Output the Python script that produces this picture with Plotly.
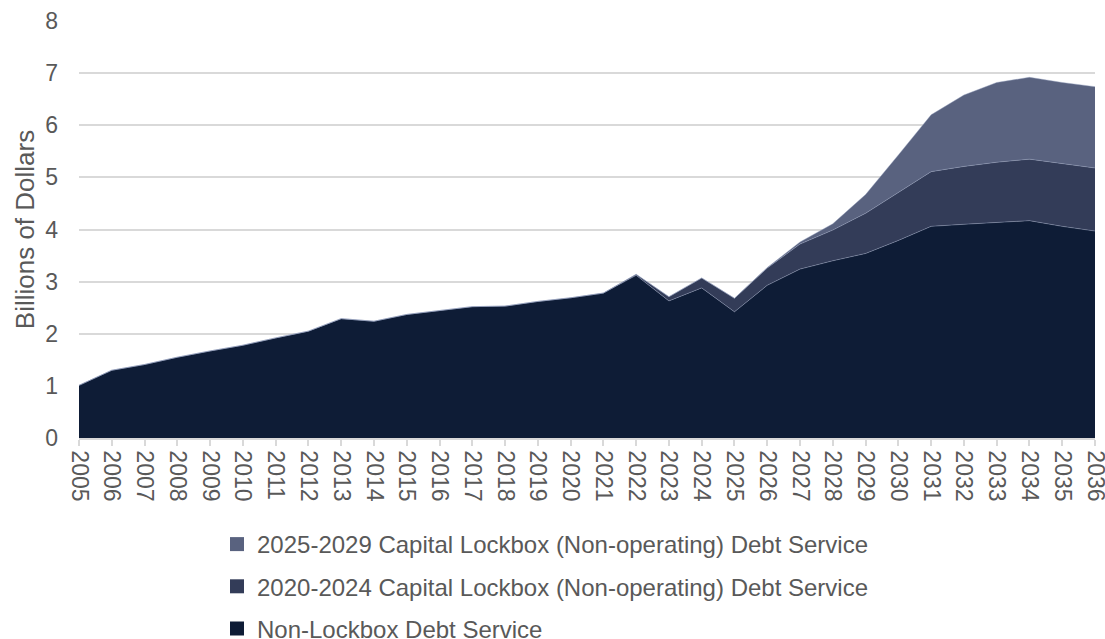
import plotly.graph_objects as go

years = list(range(2005, 2037))

non_lockbox = [1.01, 1.30, 1.41, 1.55, 1.67, 1.78, 1.92, 2.05, 2.29, 2.24, 2.37, 2.45, 2.52, 2.53, 2.62, 2.69,
               2.78, 3.12, 2.63, 2.88, 2.42, 2.93, 3.24, 3.40, 3.54, 3.79, 4.06, 4.10, 4.13, 4.17, 4.06, 3.97]
lockbox_2020_2024 = [0] * 17 + [0.02, 0.08, 0.19, 0.26, 0.33, 0.48, 0.59, 0.77, 0.92, 1.05, 1.11, 1.16, 1.18, 1.20, 1.21]
lockbox_2025_2029 = [0] * 21 + [0.01, 0.04, 0.12, 0.36, 0.72, 1.09, 1.37, 1.53, 1.57, 1.56, 1.56]

series = [
    ("Non-Lockbox Debt Service", non_lockbox, "#0E1C36"),
    ("2020-2024 Capital Lockbox (Non-operating) Debt Service", lockbox_2020_2024, "#333C58"),
    ("2025-2029 Capital Lockbox (Non-operating) Debt Service", lockbox_2025_2029, "#59627F"),
]

FONT = "Liberation Sans, Arial, sans-serif"
TEXT = "#595959"
W, H = 1105, 639
L, R, T, B = 79, 10, 21, 201
PLOT_W, PLOT_H = W - L - R, H - T - B

fig = go.Figure()
for name, vals, color in series:
    # stacked area, bottom to top
    fig.add_trace(go.Scatter(
        x=years, y=vals, stackgroup="debt", mode="lines",
        line=dict(width=0.8, color="rgba(150,160,190,0.55)"),
        fillcolor=color, showlegend=False, name=name,
    ))
for i, (name, vals, color) in enumerate(reversed(series)):
    # square legend keys, top series listed first
    fig.add_trace(go.Scatter(
        x=[None], y=[None], mode="markers", name=name,
        marker=dict(symbol="square", size=14, color=color),
        legendgroup=f"g{i}", showlegend=True,
    ))

fig.update_layout(
    width=W, height=H,
    margin=dict(l=L, r=R, t=T, b=B, autoexpand=False),
    paper_bgcolor="white", plot_bgcolor="white",
    font=dict(family=FONT, color=TEXT, size=23),
    showlegend=True,
    legend=dict(
        x=(217 - L) / PLOT_W, y=-(522 - (H - B)) / PLOT_H,
        xanchor="left", yanchor="top",
        traceorder="grouped", tracegroupgap=8,
        font=dict(size=24, color=TEXT), itemwidth=30,
        bgcolor="rgba(0,0,0,0)",
    ),
    xaxis=dict(
        range=[2005, 2036], tickmode="array", tickvals=years,
        ticktext=[str(y) for y in years], tickangle=90,
        showgrid=False, showline=True, linecolor="#D9D9D9", linewidth=1.5,
        ticks="outside", ticklen=6, tickcolor="#D9D9D9", tickwidth=1.5,
        tickfont=dict(size=23, color=TEXT), zeroline=False,
        ticklabeloverflow="allow", automargin=False,
    ),
    yaxis=dict(
        range=[0, 8], dtick=1, showgrid=True, gridcolor="#D9D9D9", gridwidth=1.5,
        zeroline=False, showline=False, ticks="",
        tickfont=dict(size=23, color=TEXT), ticklabelstandoff=20,
        title=dict(text="Billions of Dollars", font=dict(size=26, color=TEXT), standoff=3),
        automargin=False,
    ),
)

fig.write_html("out.html")
